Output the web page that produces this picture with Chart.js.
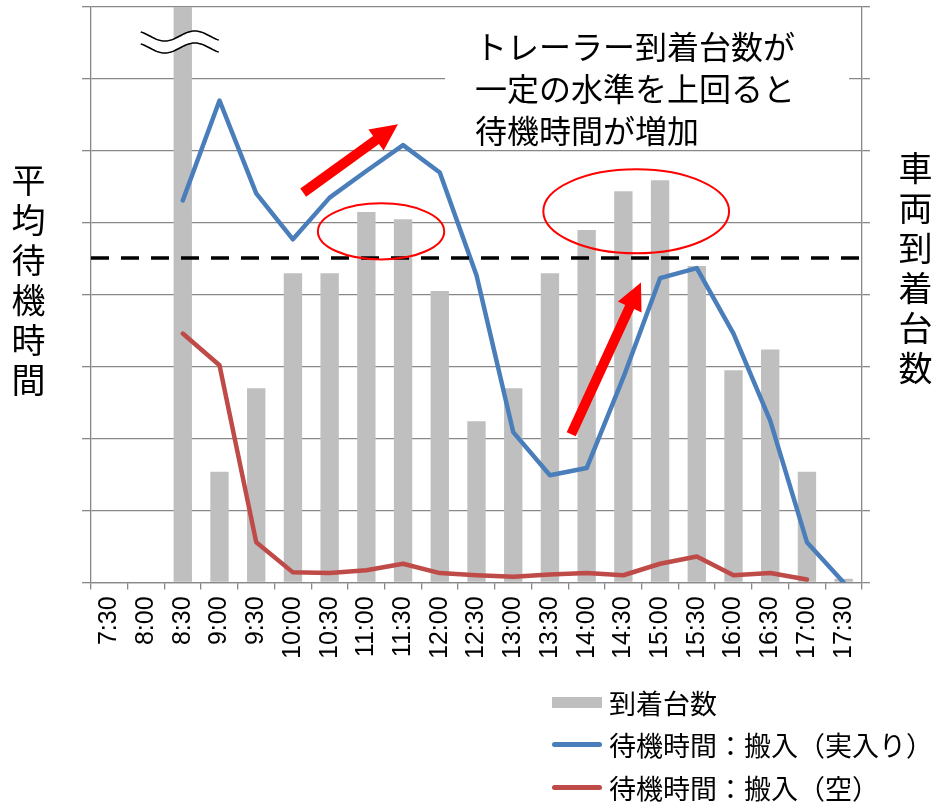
<!DOCTYPE html>
<html lang="ja">
<head>
<meta charset="utf-8">
<title>到着台数と待機時間</title>
<script src="https://cdn.jsdelivr.net/npm/chart.js@4.4.1/dist/chart.umd.min.js"></script>
<style>
  body { margin: 0; background: #fff; font-family: "Noto Sans CJK JP", sans-serif; }
  #wrap { position: relative; width: 944px; height: 811px; }
  #chart { position: absolute; left: 0; top: 0; }
  .note {
    position: absolute; left: 445px; top: 16px; width: 404px; height: 130px;
    background: #fff; box-sizing: border-box; padding: 8px 0 0 30px;
    font-size: 32px; line-height: 42px; color: #000; white-space: nowrap;
  }
  .axis-title {
    position: absolute; writing-mode: vertical-rl; font-size: 34px;
    letter-spacing: 6px; color: #000; line-height: 40px;
  }
  #legend { position: absolute; left: 552px; top: 681px; }
  .item { display: flex; align-items: center; height: 42.5px; font-size: 27px; color: #000; white-space: nowrap; }
  .swatch { width: 50px; margin-right: 7px; }
</style>
</head>
<body>
<div id="wrap">
  <canvas id="chart" width="944" height="811"></canvas>
  <div class="note">トレーラー到着台数が<br>一定の水準を上回ると<br>待機時間が増加</div>
  <div class="axis-title" style="left: 8px; top: 163px;">平均待機時間</div>
  <div class="axis-title" style="left: 895px; top: 151px;">車両到着台数</div>
  <div id="legend"></div>
</div>
<script>
// time slots
const slots = ['7:30', '8:00', '8:30', '9:00', '9:30', '10:00', '10:30', '11:00', '11:30', '12:00',
    '12:30', '13:00', '13:30', '14:00', '14:30', '15:00', '15:30', '16:00', '16:30', '17:00', '17:30'];

// arrivals (the 8:30 bar is off the scale, drawn broken)
const arrivals = [0, 0, 100, 15.4, 27.0, 43.0, 43.0, 51.5, 50.5, 40.5,
    22.4, 27.0, 43.0, 49.0, 54.4, 55.9, 44.0, 29.5, 32.4, 15.4, 0.5];

// waiting time, loaded containers
const waitLoaded = [null, null, 53.1, 67.0, 54.1, 47.7, 53.5, 57.2, 60.8, 57.0,
    42.7, 20.9, 14.9, 15.9, 28.5, 42.3, 43.7, 34.6, 22.5, 5.6, 0];

// waiting time, empty containers
const waitEmpty = [null, null, 34.6, 30.2, 5.6, 1.4, 1.3, 1.7, 2.6, 1.3,
    1.0, 0.8, 1.1, 1.3, 1.0, 2.6, 3.6, 1.0, 1.3, 0.4, null];

const threshold = 45.1;

const gridColor = '#888888';

// Drawn notes: threshold, ellipses, arrows, axis break mark
const ellipses = [
    { i: 7.4, v: 48.8, ri: 1.72, rv: 3.9 },
    { i: 14.35, v: 51.6, ri: 2.53, rv: 5.84 }
];
const arrows = [
    { i0: 5.28, v0: 54.2, i1: 7.86, v1: 63.7 },
    { i0: 12.58, v0: 20.6, i1: 14.48, v1: 41.7 }
];

function drawArrow(ctx, x0, y0, x1, y1) {
    const ang = Math.atan2(y1 - y0, x1 - x0);
    const len = Math.hypot(x1 - x0, y1 - y0);
    const w = 10, hl = 27, hw = 26;
    ctx.save();
    ctx.translate(x0, y0);
    ctx.rotate(ang);
    ctx.beginPath();
    ctx.moveTo(0, -w / 2);
    ctx.lineTo(len - hl, -w / 2);
    ctx.lineTo(len - hl, -hw / 2);
    ctx.lineTo(len, 0);
    ctx.lineTo(len - hl, hw / 2);
    ctx.lineTo(len - hl, w / 2);
    ctx.lineTo(0, w / 2);
    ctx.closePath();
    ctx.fillStyle = '#ff0000';
    ctx.fill();
    ctx.restore();
}

const notesPlugin = {
    id: 'notes',
    afterDatasetsDraw(chart) {
        const { ctx, chartArea, scales: { x, y2 } } = chart;
        ctx.save();

        // break mark on the 8:30 bar
        const cx = x.getPixelForValue(2);
        const x0 = cx - 42, x1 = cx + 36;
        const wave = (px) => chartArea.top + 29 + 5 * Math.cos(2 * Math.PI * (px - (cx - 18)) / 60);
        ctx.beginPath();
        for (let px = x0; px <= x1; px++) ctx.lineTo(px, wave(px));
        for (let px = x1; px >= x0; px--) ctx.lineTo(px, wave(px) + 12);
        ctx.closePath();
        ctx.fillStyle = '#fff';
        ctx.fill();
        ctx.strokeStyle = '#000';
        ctx.lineWidth = 1.5;
        [0, 12].forEach(off => {
            ctx.beginPath();
            for (let px = x0; px <= x1; px++) ctx.lineTo(px, wave(px) + off);
            ctx.stroke();
        });

        // threshold line
        const ty = y2.getPixelForValue(threshold);
        ctx.strokeStyle = '#000';
        ctx.lineWidth = 3.5;
        ctx.setLineDash([18, 12]);
        ctx.beginPath();
        ctx.moveTo(chartArea.left, ty);
        ctx.lineTo(chartArea.right - 2, ty);
        ctx.stroke();
        ctx.setLineDash([]);

        // ellipses
        const unitX = x.getPixelForValue(1) - x.getPixelForValue(0);
        const unitY = y2.getPixelForValue(0) - y2.getPixelForValue(1);
        ctx.strokeStyle = '#ff0000';
        ctx.lineWidth = 2;
        ellipses.forEach(e => {
            ctx.beginPath();
            ctx.ellipse(x.getPixelForValue(e.i), y2.getPixelForValue(e.v), e.ri * unitX, e.rv * unitY, 0, 0, Math.PI * 2);
            ctx.stroke();
        });

        // arrows
        arrows.forEach(a => {
            drawArrow(ctx, x.getPixelForValue(a.i0), y2.getPixelForValue(a.v0),
                x.getPixelForValue(a.i1), y2.getPixelForValue(a.v1));
        });

        ctx.restore();
    }
};

Chart.defaults.font.family = '"Noto Sans CJK JP", sans-serif';
Chart.defaults.color = '#000';

const chart = new Chart(document.getElementById('chart'), {
    type: 'bar',
    data: {
        labels: slots,
        datasets: [
            {
                type: 'bar',
                label: '到着台数',
                data: arrivals,
                yAxisID: 'y2',
                backgroundColor: '#BFBFBF',
                barPercentage: 0.5,
                categoryPercentage: 1.0,
                order: 2
            },
            {
                type: 'line',
                label: '待機時間：搬入（実入り）',
                data: waitLoaded,
                yAxisID: 'y',
                borderColor: '#4A7EBB',
                backgroundColor: '#4A7EBB',
                borderWidth: 4.5,
                borderJoinStyle: 'round',
                borderCapStyle: 'round',
                pointRadius: 0,
                tension: 0,
                order: 1
            },
            {
                type: 'line',
                label: '待機時間：搬入（空）',
                data: waitEmpty,
                yAxisID: 'y',
                borderColor: '#BE4B48',
                backgroundColor: '#BE4B48',
                borderWidth: 4.5,
                borderJoinStyle: 'round',
                borderCapStyle: 'round',
                pointRadius: 0,
                tension: 0,
                order: 1
            }
        ]
    },
    options: {
        responsive: false,
        animation: false,
        layout: { padding: { left: 82, right: 74, top: 7, bottom: 145 } },
        plugins: {
            legend: { display: false },
            tooltip: { enabled: false }
        },
        scales: {
            x: {
                offset: true,
                grid: { offset: true, drawOnChartArea: false, tickLength: 7, color: gridColor, lineWidth: 1.3 },
                border: { color: gridColor, width: 1.3 },
                ticks: {
                    minRotation: 90, maxRotation: 90, autoSkip: false, padding: 7,
                    font: { family: '"Liberation Sans", Arial, sans-serif', size: 25 }
                }
            },
            y: {
                position: 'left',
                min: 0, max: 80,
                ticks: { stepSize: 10, display: false },
                grid: { color: gridColor, lineWidth: 1.3, tickLength: 9 },
                border: { color: gridColor, width: 1.3 }
            },
            y2: {
                position: 'right',
                min: 0, max: 80,
                ticks: { stepSize: 10, display: false },
                grid: { drawOnChartArea: false, color: gridColor, lineWidth: 1.3, tickLength: 8 },
                border: { color: gridColor, width: 1.3 }
            }
        }
    },
    plugins: [notesPlugin]
});

// Legend built from the datasets
const legendBox = document.getElementById('legend');
chart.data.datasets.forEach(ds => {
    const item = document.createElement('div');
    item.className = 'item';
    const sw = document.createElement('span');
    sw.className = 'swatch';
    if (ds.type === 'bar') {
        sw.style.height = '11px';
        sw.style.background = ds.backgroundColor;
    } else {
        sw.style.height = '5px';
        sw.style.borderRadius = '3px';
        sw.style.background = ds.borderColor;
    }
    item.appendChild(sw);
    const txt = document.createElement('span');
    txt.textContent = ds.label;
    item.appendChild(txt);
    legendBox.appendChild(item);
});
</script>
</body>
</html>
